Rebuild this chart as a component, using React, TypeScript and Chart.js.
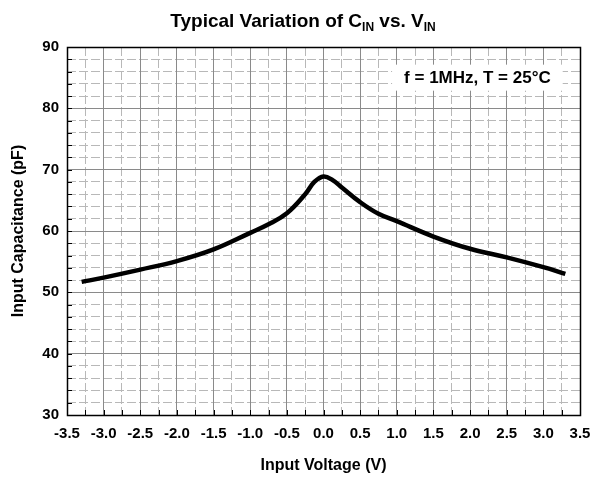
import React, { useEffect, useRef } from "react";
import { Chart, registerables } from "chart.js";

Chart.register(...registerables);

const voltage = [-3.3, -3.0, -2.5, -2.0, -1.5, -1.0, -0.75, -0.5, -0.25, -0.125, 0.0, 0.125, 0.25, 0.5, 0.75, 1.0, 1.5, 2.0, 2.5, 3.0, 3.3];
const capacitance = [51.7, 52.4, 53.7, 55.1, 57.0, 59.7, 61.1, 62.9, 66.0, 68.0, 68.9, 68.3, 67.1, 64.7, 62.8, 61.6, 59.1, 57.1, 55.7, 54.1, 53.0];

const xMin = -3.5, xMax = 3.5, xStep = 0.5, xMinorStep = 0.25;
const yMin = 30, yMax = 90, yStep = 10, yMinorStep = 2;

const titleMain = "Typical Variation of C";
const titleSub1 = "IN";
const titleMid = " vs. V";
const titleSub2 = "IN";
const xTitle = "Input Voltage (V)";
const yTitle = "Input Capacitance (pF)";
const noteText = "f = 1MHz, T = 25°C";
const notePos = { x: 2.1, y: 85 };

const FONT = "Arial, 'Liberation Sans', sans-serif";

const isMajor = (v: number, step: number) => Math.abs(v / step - Math.round(v / step)) < 1e-6;

const decorPlugin = {
  id: "decor",
  beforeDatasetsDraw(chart: any) {
    const { ctx, chartArea: a, scales } = chart;
    ctx.save();
    ctx.strokeStyle = "#000";
    ctx.lineWidth = 1;
    scales.xMinor.ticks.forEach((t: any) => {
      const px = Math.round(scales.x.getPixelForValue(t.value)) + 0.5;
      ctx.beginPath();
      ctx.moveTo(px, a.bottom);
      ctx.lineTo(px, a.bottom - 5);
      ctx.stroke();
    });
    scales.yMinor.ticks.forEach((t: any) => {
      const py = Math.round(scales.y.getPixelForValue(t.value)) + 0.5;
      ctx.beginPath();
      ctx.moveTo(a.left, py);
      ctx.lineTo(a.left + 5, py);
      ctx.stroke();
    });
    ctx.font = `bold 17px ${FONT}`;
    const cx = scales.x.getPixelForValue(notePos.x);
    const cy = scales.y.getPixelForValue(notePos.y);
    const w = ctx.measureText(noteText).width;
    ctx.fillStyle = "#fff";
    ctx.fillRect(cx - w / 2 - 12, cy - 13, w + 24, 26);
    ctx.fillStyle = "#000";
    ctx.textAlign = "center";
    ctx.textBaseline = "middle";
    ctx.fillText(noteText, cx, cy + 1);
    ctx.restore();
  },
  afterDraw(chart: any) {
    const { ctx, chartArea: a } = chart;
    ctx.save();
    ctx.strokeStyle = "#000";
    ctx.lineWidth = 1.5;
    ctx.strokeRect(a.left + 0.5, a.top + 0.5, a.right - a.left, a.bottom - a.top);
    const big = `bold 19px ${FONT}`;
    const small = `bold 12px ${FONT}`;
    ctx.textBaseline = "alphabetic";
    ctx.textAlign = "left";
    ctx.font = big;
    const w1 = ctx.measureText(titleMain).width;
    const w3 = ctx.measureText(titleMid).width;
    ctx.font = small;
    const w2 = ctx.measureText(titleSub1).width;
    const w4 = ctx.measureText(titleSub2).width;
    const total = w1 + w2 + w3 + w4;
    let x = chart.width / 2 - total / 2 + 2;
    const base = 27;
    ctx.fillStyle = "#000";
    ctx.font = big;
    ctx.fillText(titleMain, x, base);
    x += w1;
    ctx.font = small;
    ctx.fillText(titleSub1, x, base + 4);
    x += w2;
    ctx.font = big;
    ctx.fillText(titleMid, x, base);
    x += w3;
    ctx.font = small;
    ctx.fillText(titleSub2, x, base + 4);
    ctx.restore();
  },
};

export default function App() {
  const ref = useRef<HTMLCanvasElement>(null);
  useEffect(() => {
    if (!ref.current) return;
    const chart = new Chart(ref.current, {
      type: "line",
      data: {
        datasets: [
          {
            data: voltage.map((v, i) => ({ x: v, y: capacitance[i] })),
            borderColor: "#000",
            borderWidth: 4.5,
            pointRadius: 0,
            tension: 0.4,
            fill: false,
            xAxisID: "x",
            yAxisID: "y",
          },
        ],
      },
      options: {
        animation: false,
        responsive: false,
        layout: { padding: { top: 47, right: 22, left: 0, bottom: 0 } },
        plugins: { legend: { display: false }, tooltip: { enabled: false }, title: { display: false } },
        scales: {
          xMinor: {
            type: "linear",
            position: "bottom",
            min: xMin,
            max: xMax,
            ticks: { display: false, stepSize: xMinorStep },
            grid: {
              drawTicks: false,
              color: (c: any) => (isMajor(c.tick.value, xStep) ? "rgba(0,0,0,0)" : "#b8b8b8"),
            },
            border: { display: false, dash: [9, 3] },
            afterFit: (s: any) => { s.height = 0; },
          },
          yMinor: {
            type: "linear",
            position: "left",
            min: yMin,
            max: yMax,
            ticks: { display: false, stepSize: yMinorStep },
            grid: {
              drawTicks: false,
              color: (c: any) => (isMajor(c.tick.value, yStep) ? "rgba(0,0,0,0)" : "#b8b8b8"),
            },
            border: { display: false, dash: [9, 3] },
            afterFit: (s: any) => { s.width = 0; },
          },
          x: {
            type: "linear",
            position: "bottom",
            min: xMin,
            max: xMax,
            ticks: {
              stepSize: xStep,
              color: "#000",
              padding: 10,
              font: { family: FONT, size: 15, weight: "bold" },
              callback: (v: any) => Number(v).toFixed(1),
            },
            grid: { drawTicks: false, color: "#8a8a8a", lineWidth: 1 },
            border: { display: false },
            title: {
              display: true,
              text: xTitle,
              color: "#000",
              font: { family: FONT, size: 16, weight: "bold" },
              padding: { top: 0, bottom: 6 },
            },
            afterFit: (s: any) => { s.height = 66; },
          },
          y: {
            type: "linear",
            position: "left",
            min: yMin,
            max: yMax,
            ticks: {
              stepSize: yStep,
              color: "#000",
              padding: 8,
              font: { family: FONT, size: 15, weight: "bold" },
            },
            grid: { drawTicks: false, color: "#8a8a8a", lineWidth: 1 },
            border: { display: false },
            title: {
              display: true,
              text: yTitle,
              color: "#000",
              font: { family: FONT, size: 16, weight: "bold" },
              padding: { top: 9, bottom: 0 },
            },
            afterFit: (s: any) => { s.width = 67; },
          },
        },
      } as any,
      plugins: [decorPlugin],
    });
    return () => chart.destroy();
  }, []);
  return (
    <div style={{ position: "fixed", left: 0, top: 0, width: 602, height: 481, background: "#fff" }}>
      <canvas ref={ref} width={602} height={481} style={{ width: 602, height: 481 }} />
    </div>
  );
}
